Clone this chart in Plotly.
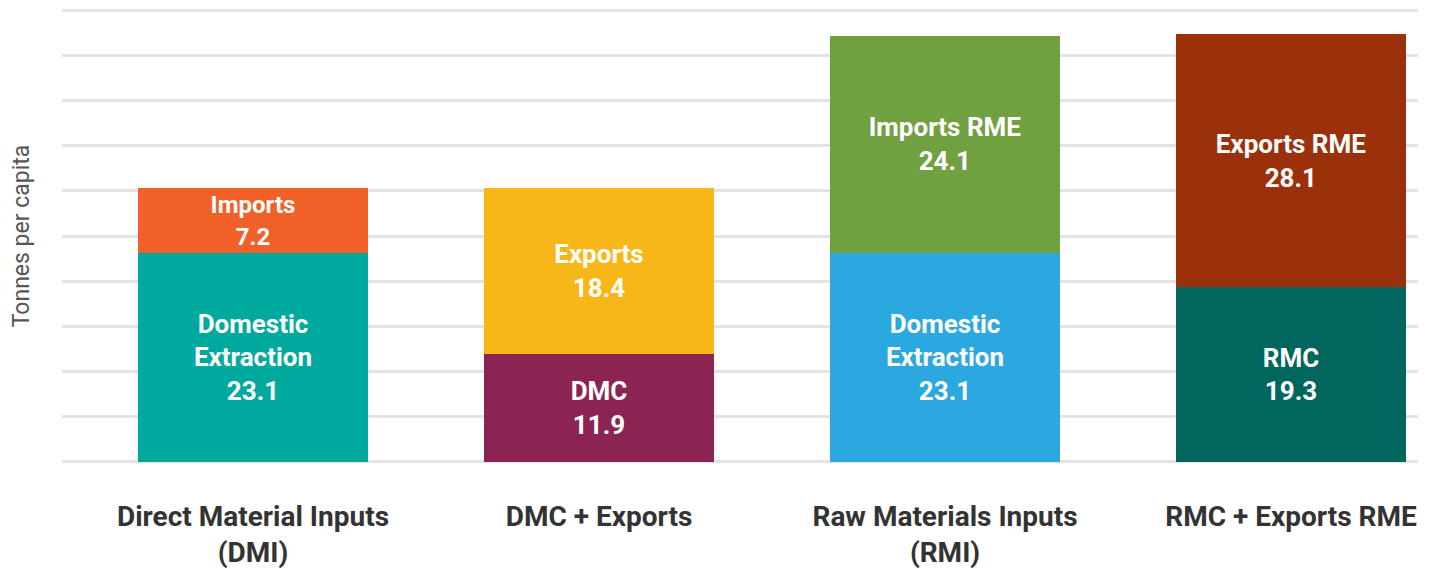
import plotly.graph_objects as go

categories = ["Direct Material Inputs<br>(DMI)", "DMC + Exports",
              "Raw Materials Inputs<br>(RMI)", "RMC + Exports RME"]
bottom_names = ["Domestic<br>Extraction", "DMC", "Domestic<br>Extraction", "RMC"]
bottom_values = [23.1, 11.9, 23.1, 19.3]
top_names = ["Imports", "Exports", "Imports RME", "Exports RME"]
top_values = [7.2, 18.4, 24.1, 28.1]
bottom_colors = ["#00A99D", "#8C2453", "#2CA8E0", "#00665E"]
top_colors = ["#F26029", "#F7B719", "#70A040", "#9B310B"]

FONT = "Roboto"
text_font = dict(family=FONT, size=26, color="white", weight="bold")

fig = go.Figure()
fig.add_trace(go.Bar(
    x=categories, y=bottom_values,
    marker=dict(color=bottom_colors, line=dict(width=0)),
    text=[f"{n}<br>{v}" for n, v in zip(bottom_names, bottom_values)],
    textposition="inside", insidetextanchor="middle", textangle=0,
    textfont=text_font, hoverinfo="skip", showlegend=False,
))
fig.add_trace(go.Bar(
    x=categories, y=top_values,
    marker=dict(color=top_colors, line=dict(width=0)),
    text=[f"{n}<br>{v}" for n, v in zip(top_names, top_values)],
    textposition="inside", insidetextanchor="middle", textangle=0,
    textfont=text_font, hoverinfo="skip", showlegend=False,
))

fig.update_layout(
    width=1425, height=561,
    barmode="stack", bargap=0.338,
    plot_bgcolor="white", paper_bgcolor="white",
    margin=dict(l=54, r=15, t=1, b=106, autoexpand=False),
    font=dict(family=FONT),
)
fig.update_xaxes(
    range=[-0.552, 3.367], showgrid=False, zeroline=False, showline=False,
    ticks="", ticklabelstandoff=34, automargin=False,
    tickfont=dict(family=FONT, size=28, color="#333333", weight="bold"),
)
fig.update_yaxes(
    range=[-0.15, 50.15], dtick=5, tick0=0, showticklabels=False, zeroline=False,
    showgrid=True, gridcolor="#E3E3E3", gridwidth=2.5, showline=False,
    automargin=False,
    title=dict(text="Tonnes per capita", standoff=24,
               font=dict(family=FONT, size=23, color="#555555")),
)

fig.write_html("out.html")
